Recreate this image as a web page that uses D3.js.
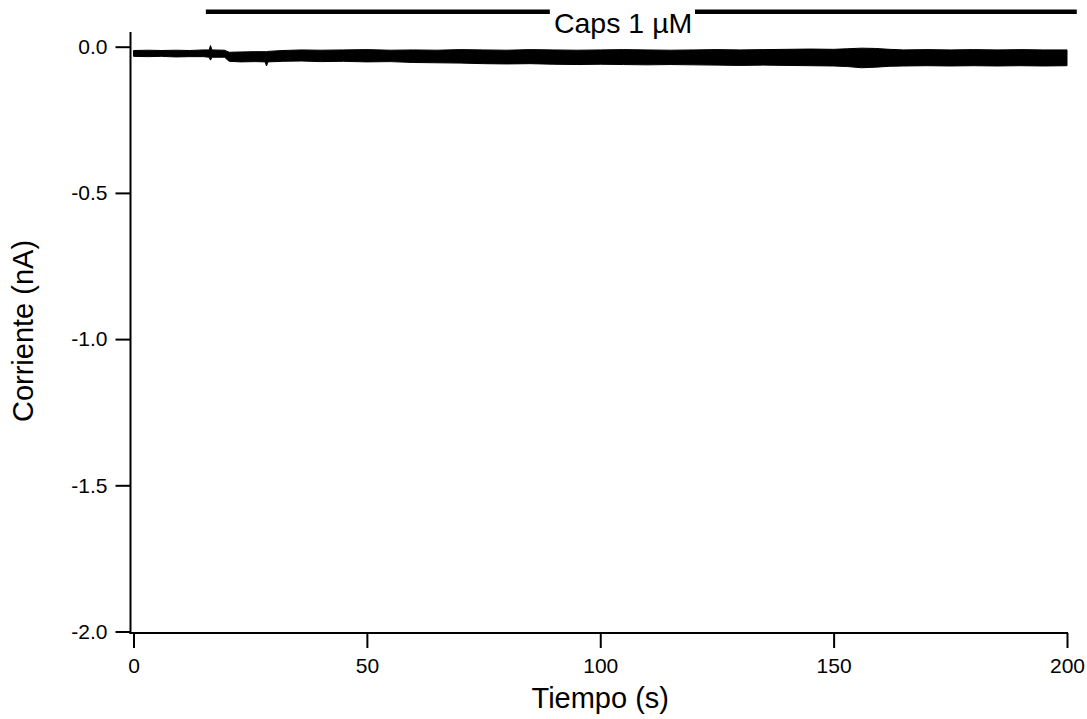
<!DOCTYPE html>
<html><head><meta charset="utf-8">
<script src="https://cdn.jsdelivr.net/npm/d3@7"></script>
<style>html,body{margin:0;padding:0;background:#fff;}svg{display:block;font-family:"Liberation Sans",Arial,sans-serif;}</style>
</head><body>
<svg id="c" width="1087" height="719"></svg>
<script>
const times = [0,3,6,9,12,15,16.2,16.5,16.8,19.5,20.5,23,26,28.2,28.5,28.8,32,36,40,45,50,55,60,65,70,75,80,85,90,95,100,105,110,115,120,125,130,135,140,145,150,153,156,159,162,165,170,175,180,185,190,195,200];
const upper = [-0.013,-0.012,-0.013,-0.012,-0.013,-0.011,-0.011,0.004,-0.011,-0.012,-0.019,-0.018,-0.017,-0.017,-0.017,-0.016,-0.013,-0.011,-0.012,-0.011,-0.010,-0.012,-0.011,-0.012,-0.010,-0.011,-0.012,-0.010,-0.011,-0.012,-0.011,-0.010,-0.011,-0.012,-0.011,-0.010,-0.011,-0.010,-0.009,-0.008,-0.009,-0.007,-0.005,-0.006,-0.009,-0.011,-0.010,-0.011,-0.010,-0.011,-0.010,-0.011,-0.011];
const lower = [-0.033,-0.034,-0.033,-0.035,-0.034,-0.034,-0.036,-0.046,-0.036,-0.036,-0.050,-0.052,-0.051,-0.052,-0.066,-0.052,-0.050,-0.049,-0.051,-0.050,-0.052,-0.051,-0.054,-0.055,-0.056,-0.058,-0.059,-0.058,-0.060,-0.061,-0.060,-0.061,-0.062,-0.061,-0.062,-0.063,-0.064,-0.063,-0.064,-0.065,-0.066,-0.068,-0.072,-0.070,-0.067,-0.066,-0.065,-0.066,-0.065,-0.066,-0.065,-0.066,-0.065];
const xTicks = [0,50,100,150,200];
const yTicks = [0,-0.5,-1.0,-1.5,-2.0];
const capsSegments = [[15.5,89.2],[120.3,202.1]];
const capsLabel = "Caps 1 µM";
const capsLabelTime = 104.9;
const xTitle = "Tiempo (s)";
const yTitle = "Corriente (nA)";

const svg = d3.select("#c");
const x = d3.scaleLinear().domain([0,200]).range([133.5,1067]);
const y = d3.scaleLinear().domain([0,-2]).range([46.7,631.5]);
const axisX0 = 130.5, axisY0 = 633;
const fmtY = d => d3.format(".1f")(d).replace("\u2212","-");

// trace
const pts = times.map((t,i)=>({t, hi:upper[i], lo:lower[i]}));
svg.append("path").datum(pts)
  .attr("d", d3.area().x(d=>x(d.t)).y0(d=>y(d.lo)).y1(d=>y(d.hi)))
  .attr("fill","#000").attr("stroke","#000").attr("stroke-width",1);

// y axis
const ya = svg.append("g").attr("transform",`translate(${axisX0},0)`)
  .call(d3.axisLeft(y).tickValues(yTicks).tickFormat(fmtY).tickSize(15).tickPadding(8));
ya.select(".domain").remove();
ya.selectAll(".tick line").attr("stroke","#000").attr("stroke-width",2);
ya.selectAll(".tick text").attr("font-size",21).attr("fill","#000").style("font-family","Liberation Sans, Arial, sans-serif");
svg.append("line").attr("x1",axisX0).attr("x2",axisX0).attr("y1",32).attr("y2",axisY0+1).attr("stroke","#000").attr("stroke-width",2);

// x axis
const xa = svg.append("g").attr("transform",`translate(0,${axisY0})`)
  .call(d3.axisBottom(x).tickValues(xTicks).tickFormat(d3.format("d")).tickSize(15).tickPadding(10));
xa.select(".domain").remove();
xa.selectAll(".tick line").attr("stroke","#000").attr("stroke-width",2);
xa.selectAll(".tick text").attr("font-size",21).attr("fill","#000").style("font-family","Liberation Sans, Arial, sans-serif");
svg.append("line").attr("x1",axisX0-1).attr("x2",x(200)+1).attr("y1",axisY0).attr("y2",axisY0).attr("stroke","#000").attr("stroke-width",2);

// titles
svg.append("text").attr("x",(x(0)+x(200))/2).attr("y",708).attr("text-anchor","middle")
  .attr("font-size",29).text(xTitle);
svg.append("text").attr("transform",`translate(33,331) rotate(-90)`).attr("text-anchor","middle")
  .attr("font-size",29).text(yTitle);

// caps bar
svg.selectAll("line.caps").data(capsSegments).enter().append("line").attr("class","caps")
  .attr("x1",d=>x(d[0])).attr("x2",d=>x(d[1])).attr("y1",11.7).attr("y2",11.7)
  .attr("stroke","#000").attr("stroke-width",4.5);
svg.append("text").attr("x",x(capsLabelTime)).attr("y",33).attr("text-anchor","middle")
  .attr("font-size",28.5).text(capsLabel);
</script>
</body></html>
